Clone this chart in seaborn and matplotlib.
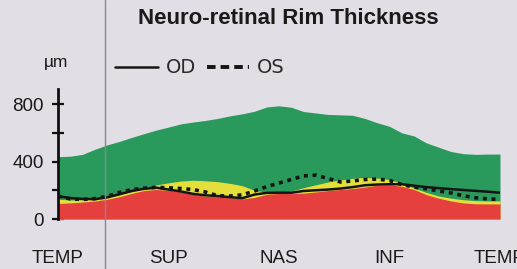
import matplotlib
matplotlib.use("Agg")
import matplotlib.pyplot as plt
import numpy as np
import pandas as pd
import seaborn as sns
from matplotlib.lines import Line2D

# angle around the disc (deg), TEMP -> SUP -> NAS -> INF -> TEMP
angles = list(range(0, 361, 10))
green_top = [434, 437, 450, 485, 516, 540, 568, 594, 619, 640, 662, 675, 686, 700, 718, 732, 750, 780, 788,
             778, 748, 738, 728, 725, 722, 700, 670, 645, 600, 578, 530, 500, 470, 455, 450, 452, 452]
yellow_top = [138, 132, 134, 142, 152, 170, 190, 215, 237, 252, 264, 270, 266, 260, 248, 232, 200, 186, 184,
              195, 218, 238, 258, 272, 283, 290, 285, 275, 249, 215, 185, 160, 145, 134, 128, 126, 126]
red_top = [108, 112, 118, 125, 137, 155, 178, 198, 205, 200, 190, 172, 158, 155, 148, 140, 150, 172, 178,
           178, 180, 188, 198, 205, 212, 222, 235, 238, 228, 205, 170, 145, 126, 112, 106, 105, 105]
od = [158, 146, 140, 138, 150, 172, 195, 210, 218, 205, 192, 175, 165, 160, 152, 145, 170, 182, 183,
      183, 195, 200, 205, 212, 222, 235, 240, 242, 242, 232, 222, 215, 208, 202, 196, 190, 183]
os_ = [160, 140, 136, 142, 158, 185, 205, 215, 220, 217, 212, 205, 188, 162, 160, 168, 195, 225, 250,
       275, 300, 305, 282, 258, 265, 275, 278, 268, 240, 222, 210, 195, 182, 162, 148, 140, 136]

tick_pos = [0, 90, 180, 270, 360]
tick_labels = ["TEMP", "SUP", "NAS", "INF", "TEMP"]
y_ticks = [0, 200, 400, 600, 800]
y_labels = ["0", "", "400", "", "800"]

bg = "#e2dee6"
sns.set_theme(style="white", rc={"axes.facecolor": bg, "figure.facecolor": bg})
plt.rcParams["font.family"] = ["Liberation Sans", "DejaVu Sans"]

W, H = 517, 269
fig = plt.figure(figsize=(W / 100, H / 100), dpi=100)
ax = fig.add_axes([58 / W, 50 / H, 442 / W, 130 / H])

ax.fill_between(angles, 0, green_top, color="#2a9a5c", lw=0)
ax.fill_between(angles, 0, yellow_top, color="#e4df3a", lw=0)
ax.fill_between(angles, 0, red_top, color="#e6403e", lw=0)

df = pd.DataFrame({"angle": angles, "OD": od, "OS": os_})
sns.lineplot(data=df, x="angle", y="OD", color="#151515", lw=1.8, ax=ax)
sns.lineplot(data=df, x="angle", y="OS", color="#151515", lw=2.6, ax=ax,
             linestyle=(0, (1.1, 1.3)))

ax.set_xlim(0, 360)
ax.set_ylim(0, 905)
ax.set_xlabel("")
ax.set_ylabel("")
for s in ["top", "right", "bottom"]:
    ax.spines[s].set_visible(False)
ax.spines["left"].set_color("#111111")
ax.spines["left"].set_linewidth(2)

ax.set_yticks(y_ticks)
ax.set_yticklabels(y_labels, fontsize=13.5, color="#1a1a1a")
ax.tick_params(axis="y", direction="inout", length=8, width=1.6, color="#111111", pad=6, left=True)
ax.set_xticks(tick_pos)
ax.set_xticklabels(tick_labels, fontsize=13.5, color="#1a1a1a")
ax.tick_params(axis="x", length=0, pad=22)

fig.text(288 / W, 1 - 18 / H, "Neuro-retinal Rim Thickness", ha="center", va="center",
         fontsize=16, fontweight="bold", color="#1a1a1a")
fig.text(56 / W, 1 - 62 / H, "µm", ha="center", va="center", fontsize=12.5, color="#1a1a1a")

handles = [Line2D([], [], color="#151515", lw=1.8),
           Line2D([], [], color="#151515", lw=2.8, linestyle=(0, (2.2, 1.3)))]
ax.legend(handles, ["OD", "OS"], ncol=2, frameon=False, loc="center left",
          bbox_to_anchor=(115 / W, 1 - 68 / H), bbox_transform=fig.transFigure,
          borderpad=0, borderaxespad=0, handlelength=2.2, handletextpad=0.4,
          columnspacing=0.55, prop={"family": "DejaVu Sans", "size": 14}, labelcolor="#2a2a2a")

# fold line in the scanned page
fig.add_artist(Line2D([105 / W, 105 / W], [0, 1], transform=fig.transFigure, color="#8a8690", lw=1))

fig.savefig("out.png", dpi=100, facecolor=bg)
